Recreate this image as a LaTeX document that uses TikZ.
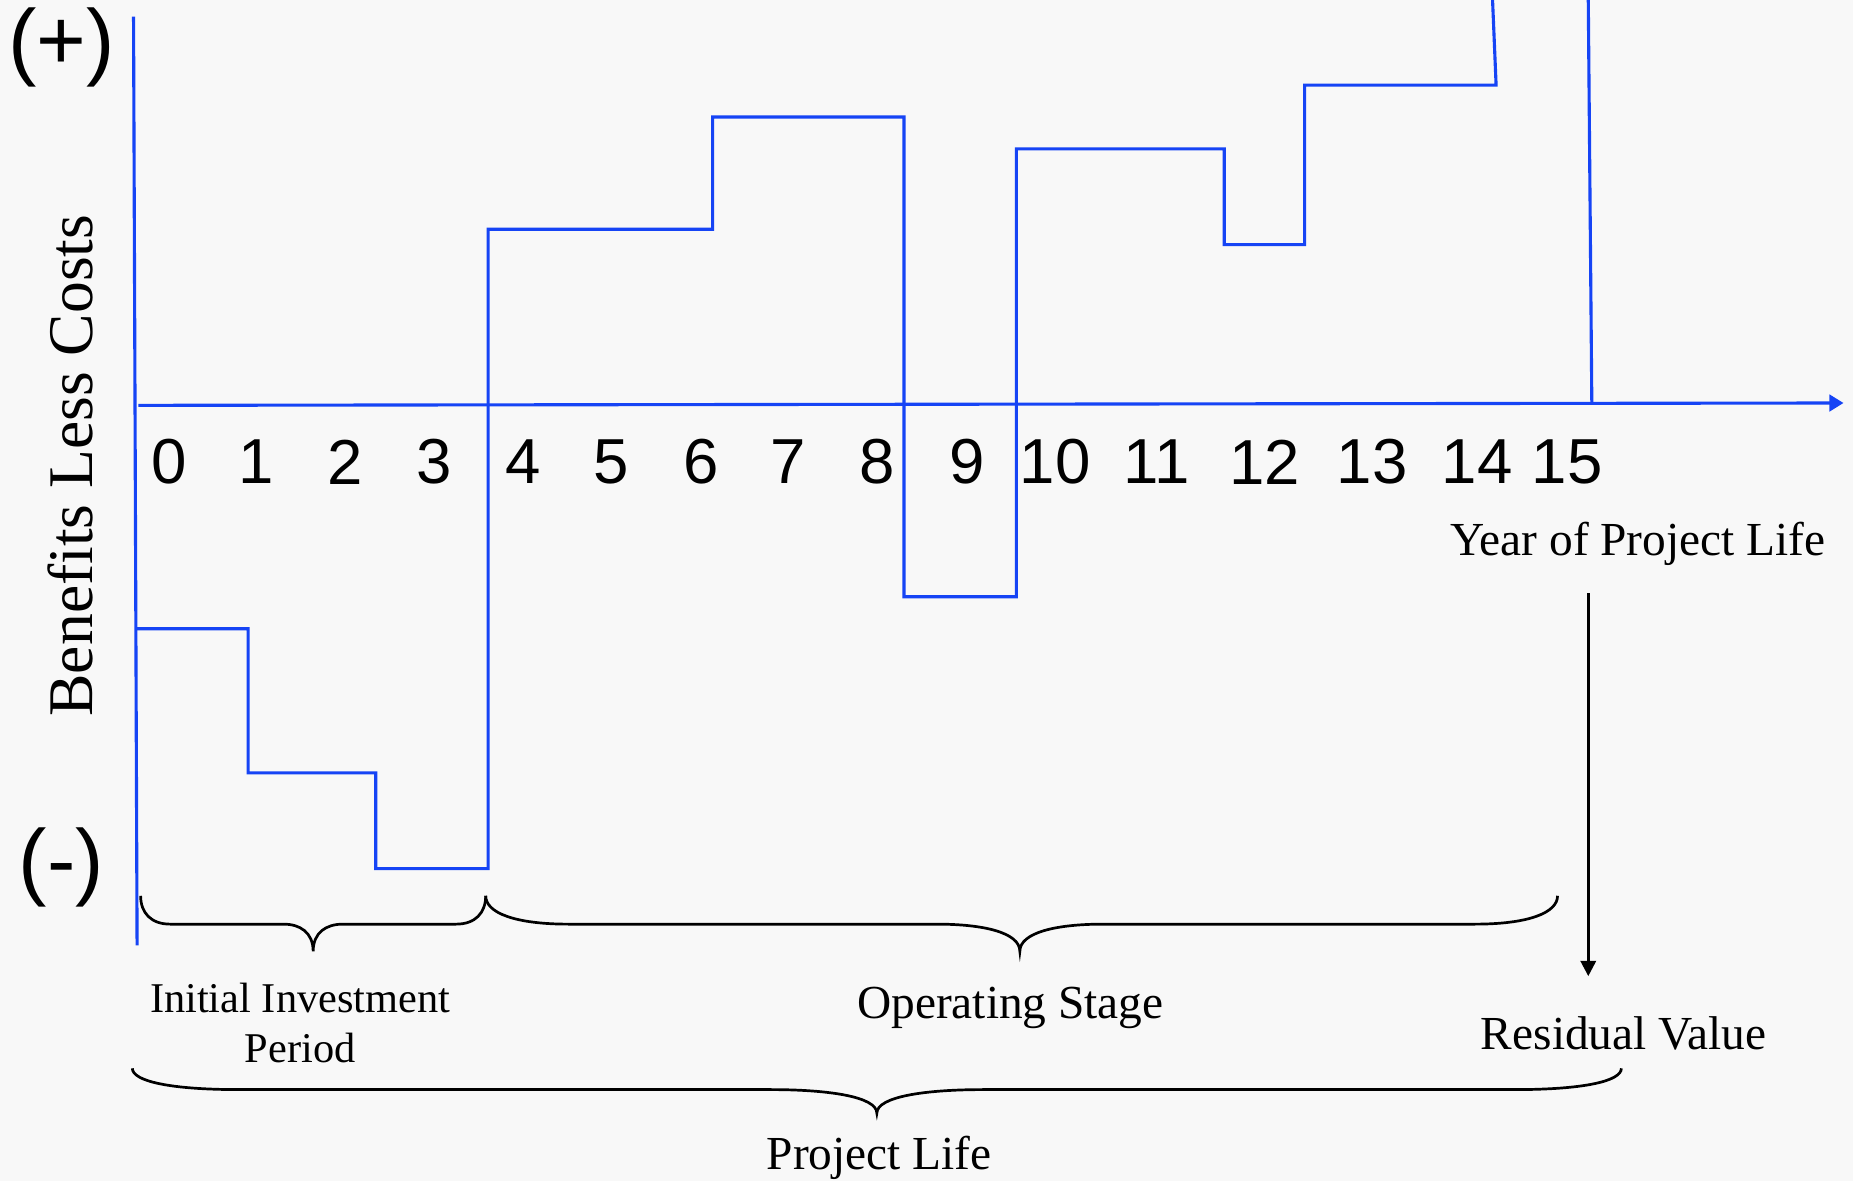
\documentclass[tikz,border=0pt]{standalone}
\usepackage{fontspec}
\setmainfont{Liberation Serif}
\newfontfamily\arialfont{Liberation Sans}
\usetikzlibrary{arrows.meta}
\definecolor{flowblue}{RGB}{22,68,245}
\definecolor{slidebg}{RGB}{248,248,248}
% curly brace opening downwards: left x, right x, tip x, top y, arm drop, tip drop, curve width
\newcommand{\lifebrace}[7]{%
  \draw[bracestyle] (#1,#4)
    .. controls (#1,{#4+0.6*#5}) and ({#1+0.35*#7},{#4+#5}) .. ({#1+#7},{#4+#5})
    -- ({#3-#7},{#4+#5})
    .. controls ({#3-0.45*#7},{#4+#5}) and (#3,{#4+#5+0.3*#6}) .. (#3,{#4+#5+#6})
    .. controls (#3,{#4+#5+0.3*#6}) and ({#3+0.45*#7},{#4+#5}) .. ({#3+#7},{#4+#5})
    -- ({#2-#7},{#4+#5})
    .. controls ({#2-0.35*#7},{#4+#5}) and (#2,{#4+0.6*#5}) .. (#2,#4);}
\tikzset{
  axisln/.style={flowblue, line width=0.75pt},
  cashflow/.style={flowblue, line width=0.75pt},
  bracestyle/.style={black, line width=0.65pt},
  yearlbl/.style={font=\arialfont\fontsize{15.3}{18}\selectfont, inner sep=0pt},
  signlbl/.style={font=\arialfont\fontsize{20.5}{24}\selectfont, inner sep=0pt},
  stagelbl/.style={font=\fontsize{11.4}{13}\selectfont, inner sep=0pt, anchor=base},
}

\begin{document}
\begin{tikzpicture}[x=0.01cm, y=-0.01cm]
  \path[use as bounding box, fill=slidebg] (0,0) rectangle (1568,999);

  % axes
  \coordinate (ytop) at (113,14);
  \coordinate (ybot) at (116,800);
  \coordinate (xstart) at (117,343);
  \coordinate (xend) at (1560,341);
  \draw[axisln] (ytop) -- (ybot);
  \draw[axisln, -{Triangle[length=0.12cm, width=0.14cm]}] (xstart) -- (xend);

  % net benefit per year
  \draw[cashflow] (116,532) -| (210,654) -| (318,735) -| (413,194) -| (603,99)
    -| (765,505) -| (860,126) -| (1036,207) -| (1104,72) -- (1266,72) -- (1263,0);
  \coordinate (rvup) at (1344,0);
  \coordinate (rvaxis) at (1347,341);
  \draw[cashflow] (rvup) -- (rvaxis);

  \foreach \yr/\xp in {0/143,1/217,2/292,3/367,4/443,5/517,6/593,7/667,8/742,
                       9/818,10/893,11/979,12/1070,13/1161,14/1250,15/1326}
    \node[yearlbl] (yr\yr) at (\xp,391) {\yr};

  \node[signlbl] (plus) at (52,40) {(+)};
  \node[signlbl] (minus) at (52,734) {(-)};
  \node[font=\fontsize{15.3}{18}\selectfont, rotate=90, inner sep=0pt] (yaxlbl)
    at (60,394) {Benefits Less Costs};

  \node[stagelbl] (yearlbl) at (1386,470) {Year of Project Life};
  \coordinate (rvtop) at (1344,502);
  \coordinate (rvbot) at (1344,826);
  \draw[black, line width=0.65pt, -{Triangle[length=0.13cm, width=0.13cm]}] (rvtop) -- (rvbot);
  \node[stagelbl] (resid) at (1374,888) {Residual Value};

  % stages
  \lifebrace{119}{411}{265}{758}{24}{23}{25}
  \lifebrace{411}{1318}{863}{758}{24}{23}{70}
  \lifebrace{112}{1372}{742}{904}{18}{20}{90}
  \node[font=\fontsize{10.2}{12}\selectfont, align=center, inner sep=0pt] (initlbl)
    at (254,866) {Initial Investment\\Period};
  \node[stagelbl] (oplbl) at (855,862) {Operating Stage};
  \node[stagelbl] (lifelbl) at (744,990) {Project Life};
\end{tikzpicture}
\end{document}
